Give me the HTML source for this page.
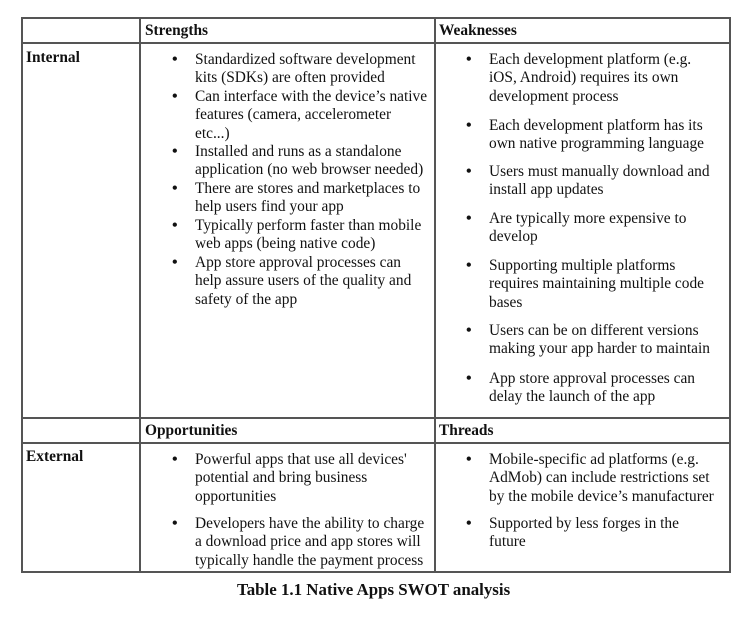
<!DOCTYPE html>
<html><head><meta charset="utf-8"><style>
body{margin:0;width:744px;height:618px;background:#fff;position:relative;overflow:hidden;font-family:"Liberation Serif",serif;color:#111;font-size:15.4px;}
.l{position:absolute;background:#555;}
.t{position:absolute;line-height:18.3px;white-space:nowrap;}
.b{font-weight:bold;}
.d{position:absolute;font-size:16px;font-weight:bold;line-height:18.3px;}
</style></head><body>
<div class="l" style="left:21px;top:17px;width:709px;height:1.5px"></div>
<div class="l" style="left:21px;top:42px;width:709px;height:1.5px"></div>
<div class="l" style="left:21px;top:417px;width:709px;height:1.5px"></div>
<div class="l" style="left:21px;top:442px;width:709px;height:1.5px"></div>
<div class="l" style="left:21px;top:571px;width:709px;height:1.5px"></div>
<div class="l" style="left:21px;top:17px;width:1.5px;height:556px"></div>
<div class="l" style="left:139px;top:17px;width:1.5px;height:556px"></div>
<div class="l" style="left:434px;top:17px;width:1.5px;height:556px"></div>
<div class="l" style="left:729px;top:17px;width:1.5px;height:556px"></div>

<div class="t b" style="left:145px;top:22px">Strengths</div>
<div class="t b" style="left:439px;top:22px">Weaknesses</div>
<div class="t b" style="left:26px;top:49px">Internal</div>
<div class="t b" style="left:145px;top:422px">Opportunities</div>
<div class="t b" style="left:439px;top:422px">Threads</div>
<div class="t b" style="left:26px;top:448px">External</div>

<div class="d" style="left:172px;top:51px">•</div>
<div class="t" style="left:195px;top:51px">Standardized software development<br>kits (SDKs) are often provided</div>
<div class="d" style="left:172px;top:88px">•</div>
<div class="t" style="left:195px;top:88px">Can interface with the device’s native<br>features (camera, accelerometer<br>etc...)</div>
<div class="d" style="left:172px;top:143px">•</div>
<div class="t" style="left:195px;top:143px">Installed and runs as a standalone<br>application (no web browser needed)</div>
<div class="d" style="left:172px;top:180px">•</div>
<div class="t" style="left:195px;top:180px">There are stores and marketplaces to<br>help users find your app</div>
<div class="d" style="left:172px;top:217px">•</div>
<div class="t" style="left:195px;top:217px">Typically perform faster than mobile<br>web apps (being native code)</div>
<div class="d" style="left:172px;top:254px">•</div>
<div class="t" style="left:195px;top:254px">App store approval processes can<br>help assure users of the quality and<br>safety of the app</div>

<div class="d" style="left:466px;top:51px">•</div>
<div class="t" style="left:489px;top:51px">Each development platform (e.g.<br>iOS, Android) requires its own<br>development process</div>
<div class="d" style="left:466px;top:117px">•</div>
<div class="t" style="left:489px;top:117px">Each development platform has its<br>own native programming language</div>
<div class="d" style="left:466px;top:163px">•</div>
<div class="t" style="left:489px;top:163px">Users must manually download and<br>install app updates</div>
<div class="d" style="left:466px;top:210px">•</div>
<div class="t" style="left:489px;top:210px">Are typically more expensive to<br>develop</div>
<div class="d" style="left:466px;top:257px">•</div>
<div class="t" style="left:489px;top:257px">Supporting multiple platforms<br>requires maintaining multiple code<br>bases</div>
<div class="d" style="left:466px;top:322px">•</div>
<div class="t" style="left:489px;top:322px">Users can be on different versions<br>making your app harder to maintain</div>
<div class="d" style="left:466px;top:370px">•</div>
<div class="t" style="left:489px;top:370px">App store approval processes can<br>delay the launch of the app</div>

<div class="d" style="left:172px;top:451px">•</div>
<div class="t" style="left:195px;top:451px">Powerful apps that use all devices'<br>potential and bring business<br>opportunities</div>
<div class="d" style="left:172px;top:515px">•</div>
<div class="t" style="left:195px;top:515px">Developers have the ability to charge<br>a download price and app stores will<br>typically handle the payment process</div>

<div class="d" style="left:466px;top:451px">•</div>
<div class="t" style="left:489px;top:451px">Mobile-specific ad platforms (e.g.<br>AdMob) can include restrictions set<br>by the mobile device’s manufacturer</div>
<div class="d" style="left:466px;top:515px">•</div>
<div class="t" style="left:489px;top:515px">Supported by less forges in the<br>future</div>

<div class="t b" style="left:237px;top:581px;font-size:16.9px">Table 1.1 Native Apps SWOT analysis</div>
</body></html>
